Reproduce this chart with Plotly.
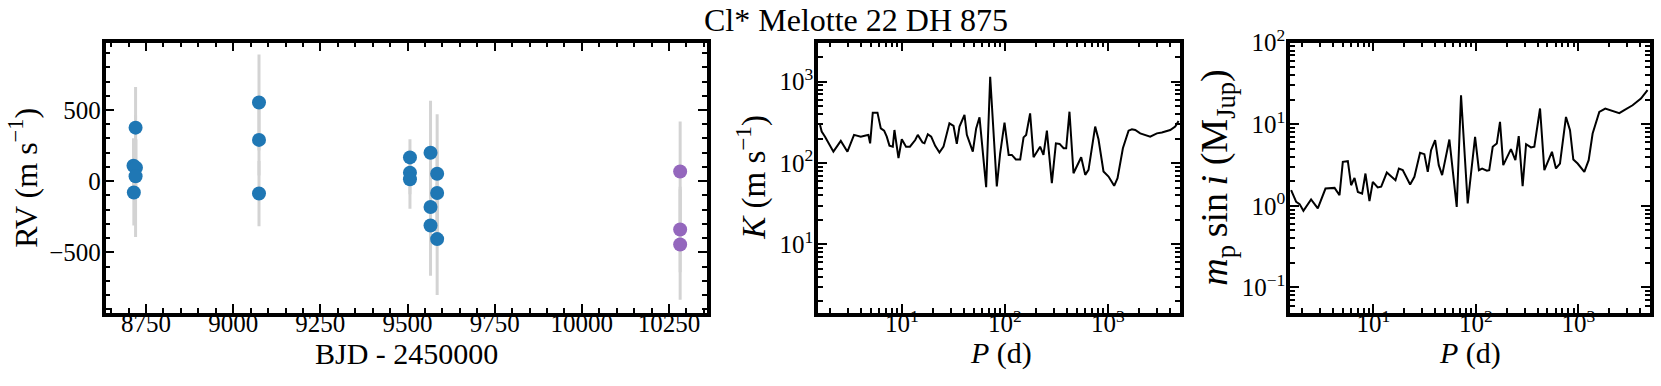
import plotly.graph_objects as go

# RV data (BJD - 2450000, m/s)
bjd_a = [8720, 8714, 8721, 8720, 8715, 9074, 9074, 9074, 9507, 9507, 9507,
         9566, 9566, 9566, 9585, 9585, 9585]
rv_a = [376, 108, 94, 35, -80, 553, 290, -87, 167, 59, 14,
        200, -181, -311, 52, -83, -407]
err_a = [286, 194, 200, 428, 231, 337, 250, 229, 127, 150, 207,
         365, 300, 353, 419, 300, 393]

bjd_b = [10282, 10282, 10282]
rv_b = [68, -339, -445]
err_b = [351, 300, 388]

# detection limits, K vs P
per_k = [1.61, 1.67, 1.80, 2.17, 2.56, 2.97, 3.44, 4.00, 4.47, 4.74, 4.93, 5.23,
         5.81, 6.26, 6.74, 7.15, 7.59, 8.18, 8.49, 9.29, 10.0, 11.0, 12.0, 13.5,
         14.3, 15.9, 16.6, 17.9, 19.3, 21.1, 23.2, 25.4, 29.0, 31.8, 34.2, 36.3,
         40.6, 42.8, 48.9, 52.7, 56.8, 65.9, 72.1, 83.6, 90.1, 99.3, 109, 117,
         128, 141, 152, 161, 176, 190, 220, 237, 256, 286, 313, 340, 372, 394,
         424, 464, 551, 603, 649, 753, 811, 907, 1015, 1151, 1241, 1399, 1588,
         1711, 1843, 2060, 2576, 2991, 3343, 4027, 4505, 4853]
k_lim = [294, 244, 211, 138, 187, 138, 222, 211, 218, 222, 175, 417,
         417, 267, 250, 211, 164, 159, 255, 115, 196, 159, 159, 192,
         222, 179, 175, 226, 211, 163, 135, 159, 308, 286, 172, 281,
         390, 222, 138, 267, 365, 50.5, 1151, 51.5, 132, 314, 126, 126,
         111, 111, 207, 222, 408, 118, 159, 126, 250, 56.6, 175, 172, 152, 152,
         428, 75, 118, 71.6, 82.4, 281, 196, 78.7, 68.3, 52.5, 65.2, 152, 250,
         260, 255, 232, 211, 232, 237, 255, 281, 330]

# detection limits, m sin i vs P
per_m = [1.57, 1.76, 1.90, 2.07, 2.46, 2.86, 3.40, 4.17, 4.66, 5.02, 5.62, 6.05,
         6.53, 7.04, 7.75, 8.35, 9.14, 9.85, 11.0, 11.9, 13.5, 14.3, 16.4, 17.7,
         19.3, 22.8, 25.1, 28.5, 31.4, 33.9, 36.5, 40.0, 43.4, 46.8, 55.1, 65.0,
         71.6, 83.2, 89.7, 98.2, 107, 115, 128, 135, 146, 160, 172, 185, 220,
         243, 262, 286, 309, 345, 372, 423, 466, 553, 605, 662, 758, 830, 894,
         985, 1145, 1262, 1380, 1603, 1834, 2161, 2512, 2812, 3388, 4086, 4742]
m_lim = [1.56, 1.12, 1.05, 0.87, 1.20, 0.93, 1.63, 1.66, 1.35, 3.46, 3.53, 1.79,
         2.20, 1.48, 1.41, 2.49, 1.14, 1.97, 1.68, 1.72, 2.56, 2.40, 2.06, 2.87,
         2.74, 1.83, 2.27, 4.47, 4.30, 2.61, 4.81, 6.38, 3.15, 2.38, 6.50, 0.97,
         22.7, 1.07, 2.49, 7.00, 2.74, 2.87, 2.70, 2.74, 5.29, 5.80, 10.7, 3.15,
         4.95, 3.63, 7.15, 1.74, 5.70, 5.20, 5.30, 15.6, 2.74, 4.60, 2.87, 3.30,
         12.3, 8.47, 3.70, 3.30, 2.61, 3.63, 7.70, 14.2, 15.6, 14.6, 13.7, 14.9,
         17.1, 20.7, 26.2]

W, H = 1661, 386
FONT = "Liberation Serif"


def px_x(p):
    return p / W


def px_y(p):
    return 1 - p / H


fig = go.Figure()

# error bars first so that every marker sits on top
fig.add_trace(go.Scatter(x=bjd_a + bjd_b, y=rv_a + rv_b, mode="markers",
                         marker=dict(size=14, color="rgba(0,0,0,0)"),
                         error_y=dict(type="data", array=err_a + err_b, color="#d3d3d3",
                                      thickness=3, width=0),
                         xaxis="x", yaxis="y", showlegend=False, hoverinfo="skip"))
fig.add_trace(go.Scatter(x=bjd_a, y=rv_a, mode="markers",
                         marker=dict(size=14, color="#1f77b4"),
                         xaxis="x", yaxis="y", showlegend=False))
fig.add_trace(go.Scatter(x=bjd_b, y=rv_b, mode="markers",
                         marker=dict(size=14, color="#9467bd"),
                         xaxis="x", yaxis="y", showlegend=False))
fig.add_trace(go.Scatter(x=per_k, y=k_lim, mode="lines",
                         line=dict(color="black", width=2),
                         xaxis="x2", yaxis="y2", showlegend=False))
fig.add_trace(go.Scatter(x=per_m, y=m_lim, mode="lines",
                         line=dict(color="black", width=2),
                         xaxis="x3", yaxis="y3", showlegend=False))

base = dict(showline=True, linewidth=3.5, linecolor="black", mirror="ticks",
            ticks="inside", ticklen=9, tickwidth=2, tickcolor="black",
            showgrid=False, zeroline=False, automargin=False,
            tickfont=dict(family=FONT, size=25, color="black"))
xbase = dict(base, ticklabelstandoff=-14)
ybase = dict(base, ticklabelstandoff=-4)

log_minor = [m * 10.0 ** e for e in range(-2, 4) for m in range(2, 10)]
minor_log = dict(ticks="inside", ticklen=5, tickwidth=1.5, tickcolor="black",
                 tickmode="array", tickvals=log_minor, showgrid=False)

ydom = [px_y(312.7), px_y(42.7)]

fig.update_layout(
    width=W, height=H,
    margin=dict(l=0, r=0, t=0, b=0, pad=0, autoexpand=False),
    paper_bgcolor="white", plot_bgcolor="white",
    xaxis=dict(xbase, domain=[px_x(105.6), px_x(707)], range=[8634, 10359],
               dtick=250, tickformat="d",
               minor=dict(ticks="inside", ticklen=5, tickwidth=1.5, tickcolor="black",
                          dtick=50, showgrid=False),
               anchor="y"),
    yaxis=dict(ybase, domain=ydom, range=[-924, 973], dtick=500,
               minor=dict(ticks="inside", ticklen=5, tickwidth=1.5, tickcolor="black",
                          dtick=100, showgrid=False),
               anchor="x"),
    xaxis2=dict(xbase, domain=[px_x(818), px_x(1180)], type="log", range=[0.187, 3.70],
                tickmode="array", tickvals=[10, 100, 1000],
                ticktext=["10<sup>1</sup>", "10<sup>2</sup>", "10<sup>3</sup>"],
                minor=minor_log, anchor="y2"),
    yaxis2=dict(ybase, domain=ydom, type="log", range=[0.16, 3.48],
                tickmode="array", tickvals=[10, 100, 1000],
                ticktext=["10<sup>1</sup>", "10<sup>2</sup>", "10<sup>3</sup>"],
                minor=minor_log, anchor="x2"),
    xaxis3=dict(xbase, domain=[px_x(1290), px_x(1650)], type="log", range=[0.185, 3.70],
                tickmode="array", tickvals=[10, 100, 1000],
                ticktext=["10<sup>1</sup>", "10<sup>2</sup>", "10<sup>3</sup>"],
                minor=minor_log, anchor="y3"),
    yaxis3=dict(ybase, domain=ydom, type="log", range=[-1.31, 2.0],
                tickmode="array", tickvals=[0.1, 1, 10, 100],
                ticktext=["10<sup>\u22121</sup>", "10<sup>0</sup>", "10<sup>1</sup>",
                          "10<sup>2</sup>"],
                minor=minor_log, anchor="x3"),
)

labels = [
    ("Cl* Melotte 22 DH 875", 856, 20, 0, 32),
    ("BJD - 2450000", 406, 353, 0, 30),
    ("<i>P</i> (d)", 1001, 353, 0, 30),
    ("<i>P</i> (d)", 1470, 353, 0, 30),
    ("RV (m s<sup>\u22121</sup>)", 23, 177.7, -90, 32),
    ("<i>K</i> (m s<sup>\u22121</sup>)", 752, 177.7, -90, 33),
    ("<i>m</i><sub>p</sub>\u2009sin\u2009<i>i</i> (M<sub>Jup</sub>)", 1217, 177.7, -90, 38),
]
for text, x, y, ang, size in labels:
    fig.add_annotation(text=text, x=px_x(x), y=px_y(y), xref="paper", yref="paper",
                       xanchor="center", yanchor="middle", textangle=ang,
                       showarrow=False, font=dict(family=FONT, size=size, color="black"))

fig.write_html("out.html", config={"displayModeBar": False},
               post_script="document.body.style.margin='0';")
